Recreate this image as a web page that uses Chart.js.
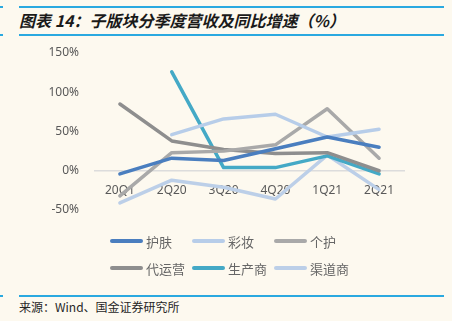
<!DOCTYPE html>
<html>
<head>
<meta charset="utf-8">
<script src="https://cdn.jsdelivr.net/npm/chart.js@4/dist/chart.umd.min.js"></script>
<style>
    html, body { margin: 0; padding: 0; }
    body { width: 452px; height: 321px; background: #fdf9ef; position: relative; overflow: hidden;
           font-family: "Noto Sans CJK SC", "Noto Sans", sans-serif; }
    .rule { position: absolute; left: 19px; width: 425px; height: 2px; background: #2aa9e0; }
    .tick { position: absolute; left: 0; width: 3px; height: 2px; background: #2aa9e0; }
    #title { position: absolute; left: 19px; top: 9px; font-size: 16px; font-weight: bold; font-style: italic;
             color: #1a1a1a; line-height: 22px; white-space: nowrap; }
    #source { position: absolute; left: 19px; top: 298px; font-size: 12px; color: #262626; line-height: 18px; white-space: nowrap; }
    #wrap { position: absolute; left: 0; top: 40px; width: 452px; height: 250px; }
</style>
</head>
<body>
<div class="rule" style="top:6px"></div>
<div class="rule" style="top:34px"></div>
<div class="rule" style="top:295px"></div>
<div class="tick" style="top:6px"></div>
<div class="tick" style="top:34px"></div>
<div class="tick" style="top:295px"></div>
<div id="title">图表 14：子版块分季度营收及同比增速（%）</div>
<div id="wrap"><canvas id="growth-chart"></canvas></div>
<div id="source">来源：Wind、国金证券研究所</div>

<script>
// quarters and yoy growth (%)
const quarters = ['20Q1', '2Q20', '3Q20', '4Q20', '1Q21', '2Q21'];
const skincare = [-4, 16, 13, 28, 43, 30];        // 护肤
const makeup = [null, 46, 66, 72, 43, 53];        // 彩妆
const personalCare = [-32, 23, 25, 33, 79, 16];   // 个护
const agency = [85, 38, 27, 22, 23, 0];           // 代运营
const producer = [null, 126, 4, 4, 19, -4];       // 生产商
const channel = [-41, -12, -21, -36, 20, -24];    // 渠道商
const yTicks = [-50, 0, 50, 100, 150];

const seriesNames = ['护肤', '彩妆', '个护', '代运营', '生产商', '渠道商'];
const seriesColors = ['#4a7ebf', '#b7cde9', '#a9a9a9', '#8e8e8e', '#44a9c6', '#bccfe8'];

const labelFont = { family: '"Noto Sans", "Noto Sans CJK SC", sans-serif', size: 12 };

// Excel style legend: fixed columns, three per row
const gridLegend = {
    id: 'gridLegend',
    afterDraw(chart) {
        const ctx = chart.ctx;
        const colX = [110, 192, 274];
        const rowY = [201, 228];
        ctx.save();
        ctx.font = '13px "Noto Sans CJK SC", sans-serif';
        ctx.textBaseline = 'middle';
        chart.data.datasets.forEach((ds, i) => {
            const x = colX[i % 3];
            const y = rowY[Math.floor(i / 3)];
            ctx.strokeStyle = ds.borderColor;
            ctx.lineWidth = 4;
            ctx.lineCap = 'round';
            ctx.beginPath();
            ctx.moveTo(x + 2, y);
            ctx.lineTo(x + 31, y);
            ctx.stroke();
            ctx.fillStyle = '#666666';
            ctx.fillText(ds.label, x + 36, y + 1);
        });
        ctx.restore();
    }
};

const allSeries = [skincare, makeup, personalCare, agency, producer, channel];

const ctx = document.getElementById('growth-chart').getContext('2d');
new Chart(ctx, {
    type: 'line',
    data: {
        labels: quarters,
        datasets: allSeries.map((values, i) => ({
            label: seriesNames[i],
            data: values,
            borderColor: seriesColors[i],
            backgroundColor: seriesColors[i],
            borderWidth: 3.5,
            borderJoinStyle: 'round',
            borderCapStyle: 'round',
            pointRadius: 0,
            tension: 0,
            spanGaps: false
        }))
    },
    options: {
        responsive: true,
        maintainAspectRatio: false,
        animation: false,
        layout: { padding: { left: 0, right: 47, top: 13, bottom: 80 } },
        plugins: {
            legend: { display: false },
            tooltip: { enabled: false }
        },
        scales: {
            x: {
                position: { y: 0 },
                offset: true,
                grid: { display: false, drawTicks: false },
                border: { display: false },
                ticks: { color: '#595959', font: labelFont, padding: 13, maxRotation: 0 }
            },
            y: {
                min: -50,
                max: 150,
                afterFit: function (scale) {
                    scale.width = 94;
                    // tick padding would otherwise push the plot area down
                    scale.paddingTop = 0;
                    scale.paddingBottom = 0;
                },
                afterBuildTicks: function (scale) { scale.ticks = yTicks.map(v => ({ value: v })); },
                grid: {
                    drawTicks: false,
                    lineWidth: 1.5,
                    color: function (c) { return c.tick && c.tick.value === 0 ? '#dcdcdc' : 'rgba(0,0,0,0)'; }
                },
                border: { display: false },
                ticks: {
                    color: '#595959',
                    font: labelFont,
                    padding: 15,
                    callback: function (value) { return value + '%'; }
                }
            }
        }
    },
    plugins: [gridLegend]
});
</script>
</body>
</html>
